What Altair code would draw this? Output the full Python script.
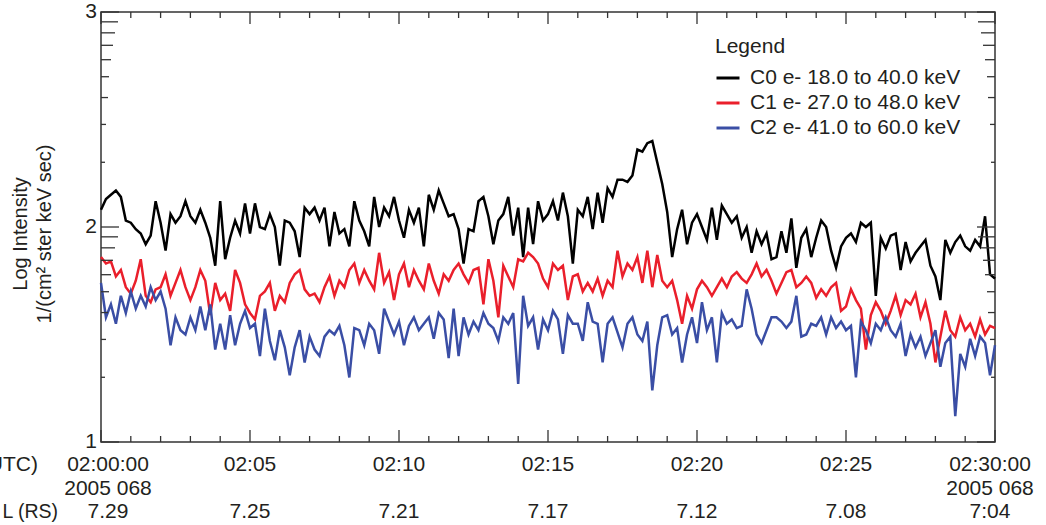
import math
import altair as alt
import pandas as pd

# ---------------- data ----------------
STEP_S = 10  # sample spacing in seconds after 02:00:00

C0 = [2.08, 2.13, 2.15, 2.17, 2.14, 2.03, 2.02, 1.99, 1.97, 1.92,
      1.96, 2.12, 2.02, 1.89, 2.06, 2.02, 2.05, 2.12, 2.05, 2.02,
      2.08, 2.02, 1.95, 1.82, 2.12, 1.85, 1.95, 2.03, 1.97, 2.11,
      1.97, 2.11, 2.00, 1.99, 2.06, 2.00, 1.82, 2.03, 2.02, 1.98,
      1.86, 2.09, 2.06, 2.09, 2.03, 2.09, 1.91, 2.07, 1.97, 1.99,
      1.91, 2.12, 2.03, 1.98, 1.91, 2.14, 2.00, 2.09, 2.05, 2.14,
      2.03, 1.95, 2.08, 2.02, 2.09, 1.91, 2.15, 2.08, 2.17, 2.11,
      2.05, 2.06, 1.99, 1.83, 1.99, 1.98, 2.12, 2.14, 2.05, 1.92,
      2.03, 2.06, 2.14, 1.96, 2.09, 1.86, 2.09, 1.92, 2.12, 2.03,
      2.06, 2.12, 2.03, 2.16, 2.05, 1.83, 2.08, 2.05, 2.14, 1.99,
      2.16, 2.02, 2.18, 2.14, 2.22, 2.22, 2.21, 2.24, 2.36, 2.35,
      2.39, 2.40, 2.30, 2.20, 2.07, 1.86, 1.99, 2.08, 1.92, 2.02,
      2.06, 2.00, 1.94, 2.09, 1.94, 2.10, 2.06, 2.02, 2.05, 1.95,
      2.00, 1.88, 1.98, 1.92, 1.97, 1.85, 1.86, 1.98, 1.88, 2.04,
      1.81, 1.95, 1.99, 1.86, 1.95, 2.03, 2.00, 1.89, 1.81, 1.91,
      1.95, 1.97, 1.93, 2.02, 2.00, 2.02, 1.68, 1.95, 1.90, 1.96,
      1.97, 1.80, 1.93, 1.84, 1.88, 1.91, 1.94, 1.82, 1.77, 1.66,
      1.94, 1.88, 1.93, 1.96, 1.91, 1.89, 1.94, 1.91, 2.05, 1.78,
      1.76]

C1 = [1.86, 1.83, 1.84, 1.77, 1.80, 1.72, 1.69, 1.75, 1.85, 1.68,
      1.65, 1.71, 1.72, 1.78, 1.68, 1.74, 1.80, 1.72, 1.66, 1.72,
      1.80, 1.75, 1.59, 1.74, 1.66, 1.69, 1.61, 1.80, 1.74, 1.64,
      1.60, 1.57, 1.68, 1.70, 1.74, 1.61, 1.68, 1.65, 1.74, 1.78,
      1.80, 1.71, 1.68, 1.69, 1.65, 1.72, 1.77, 1.68, 1.75, 1.72,
      1.80, 1.83, 1.74, 1.80, 1.75, 1.71, 1.88, 1.74, 1.79, 1.66,
      1.78, 1.83, 1.72, 1.80, 1.75, 1.71, 1.83, 1.75, 1.69, 1.78,
      1.75, 1.80, 1.83, 1.78, 1.74, 1.80, 1.81, 1.64, 1.85, 1.75,
      1.58, 1.82, 1.77, 1.72, 1.85, 1.84, 1.88, 1.86, 1.83, 1.76,
      1.72, 1.83, 1.80, 1.82, 1.66, 1.77, 1.78, 1.70, 1.74, 1.70,
      1.76, 1.68, 1.75, 1.72, 1.89, 1.77, 1.83, 1.80, 1.86, 1.74,
      1.89, 1.72, 1.87, 1.75, 1.72, 1.75, 1.66, 1.55, 1.68, 1.62,
      1.71, 1.75, 1.72, 1.68, 1.72, 1.76, 1.72, 1.77, 1.79, 1.76,
      1.74, 1.78, 1.83, 1.77, 1.80, 1.75, 1.69, 1.74, 1.79, 1.80,
      1.72, 1.74, 1.77, 1.74, 1.67, 1.71, 1.68, 1.72, 1.74, 1.61,
      1.63, 1.71, 1.66, 1.62, 1.43, 1.59, 1.65, 1.61, 1.55, 1.61,
      1.68, 1.59, 1.66, 1.64, 1.69, 1.58, 1.65, 1.55, 1.37, 1.49,
      1.61, 1.52, 1.49, 1.58, 1.52, 1.55, 1.49, 1.57, 1.50, 1.54,
      1.53]

C2 = [1.74, 1.58, 1.64, 1.55, 1.68, 1.60, 1.70, 1.62, 1.68, 1.63,
      1.72, 1.66, 1.70, 1.62, 1.45, 1.58, 1.52, 1.50, 1.58, 1.52,
      1.63, 1.52, 1.64, 1.43, 1.55, 1.43, 1.59, 1.45, 1.55, 1.61,
      1.53, 1.55, 1.40, 1.62, 1.47, 1.38, 1.52, 1.44, 1.31, 1.44,
      1.52, 1.37, 1.49, 1.43, 1.40, 1.49, 1.52, 1.50, 1.54, 1.45,
      1.30, 1.53, 1.52, 1.45, 1.55, 1.52, 1.41, 1.62, 1.56, 1.50,
      1.56, 1.45, 1.54, 1.58, 1.52, 1.55, 1.58, 1.48, 1.60, 1.57,
      1.39, 1.62, 1.40, 1.58, 1.50, 1.56, 1.52, 1.60, 1.55, 1.53,
      1.47, 1.58, 1.55, 1.60, 1.27, 1.68, 1.54, 1.58, 1.43, 1.57,
      1.52, 1.61, 1.57, 1.41, 1.59, 1.55, 1.55, 1.47, 1.65, 1.56,
      1.55, 1.37, 1.55, 1.58, 1.51, 1.44, 1.55, 1.58, 1.50, 1.47,
      1.56, 1.24, 1.45, 1.58, 1.59, 1.50, 1.53, 1.37, 1.50, 1.58,
      1.46, 1.65, 1.52, 1.58, 1.37, 1.60, 1.55, 1.57, 1.53, 1.54,
      1.71, 1.62, 1.50, 1.46, 1.52, 1.58, 1.58, 1.56, 1.53, 1.56,
      1.68, 1.49, 1.50, 1.55, 1.54, 1.58, 1.50, 1.58, 1.53, 1.56,
      1.52, 1.54, 1.30, 1.56, 1.52, 1.46, 1.55, 1.52, 1.58, 1.52,
      1.49, 1.55, 1.40, 1.50, 1.44, 1.49, 1.40, 1.46, 1.52, 1.35,
      1.46, 1.49, 1.12, 1.41, 1.35, 1.48, 1.40, 1.49, 1.46, 1.31,
      1.45]

SERIES = ["C0 e- 18.0 to 40.0 keV", "C1 e- 27.0 to 48.0 keV", "C2 e- 41.0 to 60.0 keV"]
COLORS = ["#000000", "#EA1F2B", "#3A4EA5"]

T_MIN, T_MAX = 0, 1800                      # seconds after 02:00:00
MAJOR_T = [0, 300, 600, 900, 1200, 1500, 1800]
MINOR_T = [60, 120, 180, 240, 360, 420, 480, 540, 660, 720, 780, 840,
           960, 1020, 1080, 1140, 1260, 1320, 1380, 1440, 1560, 1620, 1680, 1740]
TIME_LABELS = ["02:00:00", "02:05", "02:10", "02:15", "02:20", "02:25", "02:30:00"]
DATE_LABELS = ["2005 068", "", "", "", "", "", "2005 068"]
L_LABELS = ["7.29", "7.25", "7.21", "7.17", "7.12", "7.08", "7:04"]

Y_MIN, Y_MAX = 1, 3
Y_MAJOR = [1, 2, 3]
Y_LABELS = ["1", "2", "3"]
Y_MINOR_K = [2, 3, 4, 5, 6, 7, 8, 9]          # log-decade minor ticks
Y_TITLE = ["Log Intensity", "1/(cm² ster keV sec)"]

# ---------------- styles ----------------
W, H = 894, 430
FONT = "Liberation Sans"
INK = "#231F20"
FS = 21
Y_MINOR_LEN = [4, 5, 7, 8, 10, 12, 14, 17]
Y_MAJOR_LEN = 18
X_MAJOR_LEN = 12
X_MINOR_LEN = 6

# ---------------- tables ----------------
rows = []
for name, vals in zip(SERIES, [C0, C1, C2]):
    for i, v in enumerate(vals):
        rows.append({"t": i * STEP_S, "v": v, "series": name})
df_lines = pd.DataFrame(rows)

yt = [{"value": v, "len": Y_MAJOR_LEN} for v in Y_MAJOR]
for d in [1, 2]:
    for k, ln in zip(Y_MINOR_K, Y_MINOR_LEN):
        yt.append({"value": d + math.log10(k), "len": ln})
df_yt = pd.DataFrame(yt)
df_ylab = pd.DataFrame({"value": Y_MAJOR, "text": Y_LABELS})

df_xt = pd.DataFrame([{"t": t, "len": X_MAJOR_LEN} for t in MAJOR_T] +
                     [{"t": t, "len": X_MINOR_LEN} for t in MINOR_T])

lab = []
for t, a, b, c in zip(MAJOR_T, TIME_LABELS, DATE_LABELS, L_LABELS):
    for line, txt in enumerate([a, b, c]):
        if txt:
            lab.append({"t": t, "line": line, "text": txt})
df_lab = pd.DataFrame(lab)

xs = alt.Scale(domain=[T_MIN, T_MAX], nice=False, zero=False)
ys = alt.Scale(domain=[Y_MIN, Y_MAX], nice=False, zero=False)
rowscale = alt.Scale(domain=[0, 2], range=[H + 23, H + 70], nice=False, zero=False)

legend = alt.Legend(
    title="Legend", orient="none", legendX=614, legendY=24,
    titleFontSize=FS, titleFontWeight="normal", titleFont=FONT, titleColor=INK,
    titlePadding=8, labelFontSize=FS, labelFont=FONT, labelColor=INK, labelLimit=0,
    symbolType="stroke", symbolStrokeWidth=3, symbolSize=529,
    labelOffset=9, rowPadding=2, padding=0,
)

lines = alt.Chart(df_lines).mark_line(strokeWidth=2.5).encode(
    x=alt.X("t:Q", scale=xs, axis=None),
    y=alt.Y("v:Q", scale=ys, axis=None),
    color=alt.Color("series:N", scale=alt.Scale(domain=SERIES, range=COLORS), legend=legend),
)

tick_style = dict(color="#333333", strokeWidth=1.3)

y_left = alt.Chart(df_yt).mark_rule(**tick_style).encode(
    y=alt.Y("value:Q", scale=ys, axis=None),
    x=alt.X("len:Q", scale=None, axis=None),
    x2=alt.value(0),
)
y_right = alt.Chart(df_yt).transform_calculate(rx=f"{W} - datum.len").mark_rule(**tick_style).encode(
    y=alt.Y("value:Q", scale=ys, axis=None),
    x=alt.X("rx:Q", scale=None, axis=None),
    x2=alt.value(W),
)
x_bottom = alt.Chart(df_xt).transform_calculate(by=f"{H} - datum.len").mark_rule(**tick_style).encode(
    x=alt.X("t:Q", scale=xs, axis=None),
    y=alt.Y("by:Q", scale=None, axis=None),
    y2=alt.value(H),
)
x_top = alt.Chart(df_xt).mark_rule(**tick_style).encode(
    x=alt.X("t:Q", scale=xs, axis=None),
    y=alt.Y("len:Q", scale=None, axis=None),
    y2=alt.value(0),
)

# y tick labels
y_labels = alt.Chart(df_ylab).mark_text(
    font=FONT, fontSize=FS, color=INK, baseline="middle", align="right", dx=-4
).encode(
    y=alt.Y("value:Q", scale=ys, axis=None),
    x=alt.value(0),
    text="text:N",
)

# y title (two rotated lines)
title_style = dict(font=FONT, fontSize=20, color=INK, baseline="middle", align="center", angle=270)
y_title1 = alt.Chart(pd.DataFrame({"text": [Y_TITLE[0]]})).mark_text(**title_style).encode(
    x=alt.value(-80), y=alt.value(222), text="text:N")
y_title2 = alt.Chart(pd.DataFrame({"text": [Y_TITLE[1]]})).mark_text(**title_style).encode(
    x=alt.value(-56), y=alt.value(222), text="text:N")

txt_style = dict(font=FONT, fontSize=FS, color=INK, baseline="middle", align="center")


def label_layer(filt, dx):
    return alt.Chart(df_lab).transform_filter(filt).mark_text(dx=dx, **txt_style).encode(
        x=alt.X("t:Q", scale=xs, axis=None),
        y=alt.Y("line:Q", scale=rowscale, axis=None),
        text="text:N",
    )


lab_first = label_layer(f"datum.t == {T_MIN}", 7)
lab_mid = label_layer(f"datum.t > {T_MIN} && datum.t < {T_MAX}", 0)
lab_last = label_layer(f"datum.t == {T_MAX}", -5)

side_style = dict(font=FONT, color=INK, baseline="middle", align="right")
side_utc = alt.Chart(pd.DataFrame({"text": ["(UTC)"], "line": [0]})).mark_text(fontSize=FS, **side_style).encode(
    x=alt.value(-63), y=alt.Y("line:Q", scale=rowscale, axis=None), text="text:N")
side_l = alt.Chart(pd.DataFrame({"text": ["L (RS)"], "line": [2]})).mark_text(fontSize=19.5, **side_style).encode(
    x=alt.value(-43), y=alt.Y("line:Q", scale=rowscale, axis=None), text="text:N")

chart = alt.layer(
    lines, y_left, y_right, x_bottom, x_top, y_labels, y_title1, y_title2,
    lab_first, lab_mid, lab_last, side_utc, side_l
).resolve_scale(
    x="independent", y="independent"
).properties(
    width=W, height=H,
    autosize=alt.AutoSizeParams(type="none"),
    padding={"left": 101, "top": 12, "right": 51, "bottom": 83},
    background="white",
).configure_view(
    stroke="#333333", strokeWidth=1.5
)

chart.save("out.html", embed_options={"renderer": "svg", "actions": False})
